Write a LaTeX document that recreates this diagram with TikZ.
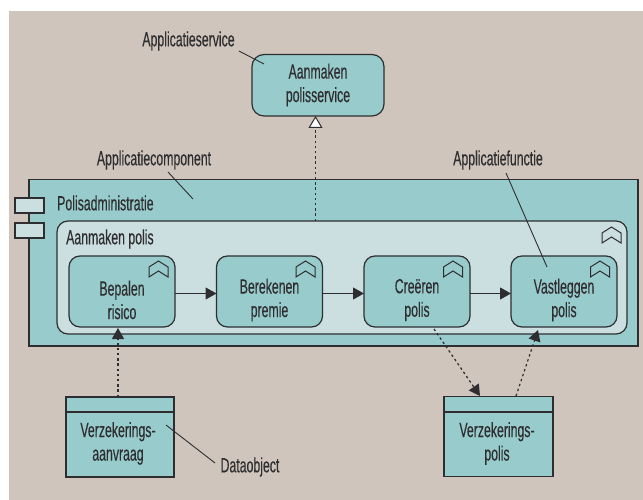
\documentclass[tikz,border=0pt]{standalone}
\usepackage{fontspec}
\setmainfont{Liberation Sans}[FakeStretch=0.6,FakeBold=0.25]
\usetikzlibrary{arrows.meta}
\definecolor{bgc}{HTML}{CFC5BC}
\definecolor{teal}{HTML}{98CBCC}
\definecolor{lightc}{HTML}{CBDEE0}
\definecolor{ink}{HTML}{2E2E30}
\tikzset{
  x=1pt,y=-1pt,
  txt/.style={font=\fontsize{20.5}{23.5}\selectfont,text=ink,align=center,inner sep=0pt},
  box/.style={draw=ink,line width=1.2pt,inner sep=0pt,outer sep=0pt,anchor=north west},
  fnbox/.style={box,fill=teal,rounded corners=11pt,minimum width=106pt,minimum height=71pt},
  databox/.style={box,fill=teal,minimum width=108pt,minimum height=80pt},
  portbox/.style={box,fill=lightc,minimum width=29pt,minimum height=15pt},
  leader/.style={draw=ink,line width=0.9pt},
  flow/.style={draw=ink,line width=1pt,-{Triangle[length=11pt,width=12pt,fill=ink]}},
  dep/.style={draw=ink,line width=1.25pt,dash pattern=on 2.4pt off 2.8pt,-{Triangle[length=11pt,width=12pt,fill=ink]}},
  real/.style={draw=ink,line width=1.25pt,dash pattern=on 2.4pt off 2.8pt,-{Triangle[length=12pt,width=14pt,fill=white,line width=1pt]}},
  pics/chev/.style={code={\draw[draw=ink,line width=1pt,line join=miter,fill=none]
     (-9.5,3)--(0,-3)--(9.5,3)--(9.5,13)--(0,7)--(-9.5,13)--cycle;}},
}
\begin{document}
\begin{tikzpicture}
\useasboundingbox (0,0) rectangle (643,500);
\fill[white] (0,0) rectangle (643,500);
\fill[bgc] (9,11) rectangle (643,500);

% component
\node[box,fill=teal,minimum width=609pt,minimum height=166.5pt] (comp) at (29,179.5) {};
\node[portbox] (p1) at (15,198) {};
\node[portbox] (p2) at (15,223) {};
\node[txt,anchor=west] (compl) at (57,203) {Polisadministratie};

% service
\node[box,fill=teal,rounded corners=12pt,minimum width=132pt,minimum height=61.5pt] (srv) at (252,54.5) {};
\node[txt] (srvt) at (318,85) {Aanmaken\\polisservice};

% group function
\node[box,fill=lightc,rounded corners=11pt,minimum width=570pt,minimum height=113pt] (grp) at (57,221) {};
\node[txt,anchor=west] (grpl) at (66,239) {Aanmaken polis};
\pic at (611.5,230) {chev};

% functions
\node[fnbox] (f1) at (69,256) {};
\node[fnbox] (f2) at (216.5,256) {};
\node[fnbox] (f3) at (364,256) {};
\node[fnbox] (f4) at (511,256) {};
\node[txt] (f1t) at (122,300) {Bepalen\\risico};
\node[txt] (f2t) at (269.5,300) {Berekenen\\premie};
\node[txt] (f3t) at (417,300) {Creëren\\polis};
\node[txt] (f4t) at (564,300) {Vastleggen\\polis};
\pic at (158.5,264) {chev};
\pic at (305.5,264) {chev};
\pic at (453,264) {chev};
\pic at (600,264) {chev};

% data objects
\node[databox] (d1) at (66,397) {};
\draw[draw=ink,line width=1.2pt] (66,412) -- (174,412);
\node[txt] (d1t) at (118,443.5) {Verzekerings-\\aanvraag};
\node[databox,minimum width=109pt] (d2) at (444,396.5) {};
\draw[draw=ink,line width=1.2pt] (444,412) -- (553,412);
\node[txt] (d2t) at (497,443.5) {Verzekerings-\\polis};

% flows
\draw[flow] ([yshift=-2pt]f1.east) -- ([yshift=-2pt]f2.west);
\draw[flow] ([yshift=-2pt]f2.east) -- ([yshift=-2pt]f3.west);
\draw[flow] ([yshift=-2pt]f3.east) -- ([yshift=-2pt]f4.west);

% dotted
\coordinate (r0) at (315.5,221);
\coordinate (r1) at (315.5,116);
\draw[real] (r0) -- (r1);
\coordinate (a0) at (118,397);
\coordinate (a1) at (118,328);
\draw[dep] (a0) -- (a1);
\coordinate (b0) at (434,329);
\coordinate (b1) at (480,396);
\draw[dep] (b0) -- (b1);
\coordinate (c0) at (516,396);
\coordinate (c1) at (538,330);
\draw[dep] (c0) -- (c1);

% callouts
\node[txt] (ls) at (188.5,41) {Applicatieservice};
\coordinate (ls0) at (239,51); \coordinate (ls1) at (264,64);
\draw[leader] (ls0) -- (ls1);
\node[txt] (lc) at (154,160) {Applicatiecomponent};
\coordinate (lc0) at (168,172); \coordinate (lc1) at (193,199);
\draw[leader] (lc0) -- (lc1);
\node[txt] (lf) at (498,160) {Applicatiefunctie};
\coordinate (lf0) at (506,173); \coordinate (lf1) at (547,267);
\draw[leader] (lf0) -- (lf1);
\node[txt] (ld) at (250,467) {Dataobject};
\coordinate (ld0) at (166,425); \coordinate (ld1) at (215,463);
\draw[leader] (ld0) -- (ld1);
\end{tikzpicture}
\end{document}
